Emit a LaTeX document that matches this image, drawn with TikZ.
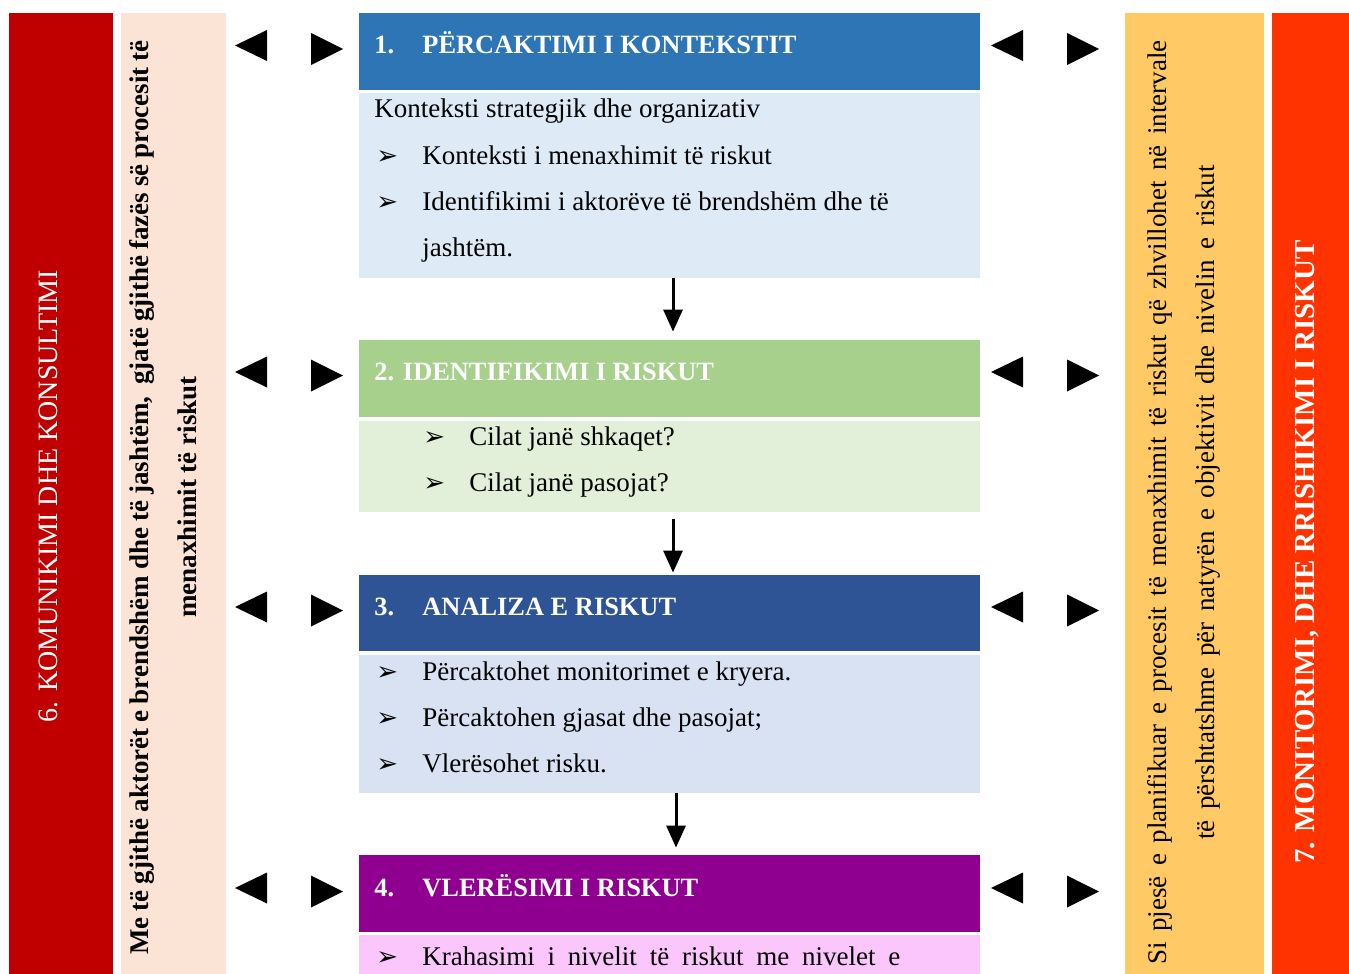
\documentclass[tikz,border=0pt]{standalone}
\usepackage{fontspec}
\setmainfont{Liberation Serif}
\newfontfamily\symfont{DejaVu Sans}
\usetikzlibrary{arrows.meta}

\definecolor{commred}{HTML}{C00000}
\definecolor{peach}{HTML}{FBE4D5}
\definecolor{sand}{HTML}{FFC966}
\definecolor{monired}{HTML}{FF3300}
\definecolor{hdone}{HTML}{2E75B6}
\definecolor{bdone}{HTML}{DEEAF6}
\definecolor{hdtwo}{HTML}{A8D08D}
\definecolor{bdtwo}{HTML}{E2EFD9}
\definecolor{hdthree}{HTML}{2F5496}
\definecolor{bdthree}{HTML}{D9E2F3}
\definecolor{hdfour}{HTML}{900090}
\definecolor{bdfour}{HTML}{FBC6FB}

\newcommand{\blt}{\makebox[23pt][l]{\symfont\fontsize{13}{14}\selectfont ➢}}

\tikzset{
  headbox/.style={rectangle, inner sep=0pt, minimum width=310.5pt, minimum height=38.5pt},
  bodybox/.style={rectangle, inner sep=0pt, minimum width=310.5pt},
  headtxt/.style={anchor=base west, inner sep=0pt, text=white, font=\bfseries\fontsize{13.2}{16}\selectfont},
  itemtxt/.style={anchor=base west, inner sep=0pt, font=\fontsize{13.5}{16}\selectfont},
  sidetxt/.style={rotate=90, inner sep=0pt, font=\fontsize{13.5}{16}\selectfont},
  flow/.style={line width=1.5pt, -{Triangle[width=9.5pt,length=11pt]}}
}

\begin{document}
\begin{tikzpicture}[x=0.5pt,y=-0.5pt]
\useasboundingbox (0,0) rectangle (1349,974);

% colonne laterali
\fill[commred] (9,13) rectangle (113,974);
\fill[peach] (121,13) rectangle (226,974);
\fill[sand] (1125,13) rectangle (1264,974);
\fill[monired] (1272,13) rectangle (1349,974);

% testi laterali
\node[sidetxt, text=white, font=\fontsize{14}{16}\selectfont] (commtxt) at (48,496) {6. KOMUNIKIMI DHE KONSULTIMI};
\node[sidetxt, font=\bfseries\fontsize{13.5}{16}\selectfont] (peachone) at (142,497.5)
  {\makebox[457pt][s]{Me të gjithë aktorët e brendshëm dhe të jashtëm,\ \ gjatë gjithë fazës së procesit të}};
\node[sidetxt, font=\bfseries\fontsize{13.5}{16}\selectfont] (peachtwo) at (187,497) {menaxhimit të riskut};
\node[sidetxt] (sandone) at (1160,502.5)
  {\makebox[462pt][s]{Si pjesë e planifikuar e procesit të menaxhimit të riskut që zhvillohet në intervale}};
\node[sidetxt] (sandtwo) at (1208,502.5)
  {\makebox[337pt][s]{të përshtatshme për natyrën e objektivit dhe nivelin e riskut}};
\node[sidetxt, text=white, font=\bfseries\fontsize{14.5}{16}\selectfont] (monitxt) at (1307,552) {7. MONITORIMI, DHE RRISHIKIMI I RISKUT};

% triangoli
\foreach \c in {45.5,372,607,888} {
  \fill (235,\c) -- (267,\c-15.5) -- (267,\c+15.5) -- cycle;
  \fill (343,\c+3.5) -- (311,\c-12.5) -- (311,\c+19.5) -- cycle;
  \fill (991,\c) -- (1023,\c-15.5) -- (1023,\c+15.5) -- cycle;
  \fill (1099,\c+3.5) -- (1067,\c-12.5) -- (1067,\c+19.5) -- cycle;
}

% riquadri
\node[headbox, fill=hdone] (head1) at (669.5,51.5) {};
\node[bodybox, fill=bdone, minimum height=92.5pt] (body1) at (669.5,185.5) {};
\node[headbox, fill=hdtwo] (head2) at (669.5,378.5) {};
\node[bodybox, fill=bdtwo, minimum height=45.5pt] (body2) at (669.5,466.5) {};
\node[headbox, fill=hdthree, minimum height=38pt] (head3) at (669.5,613) {};
\node[bodybox, fill=bdthree, minimum height=69pt] (body3) at (669.5,724) {};
\node[headbox, fill=hdfour] (head4) at (669.5,893.5) {};
\node[bodybox, fill=bdfour, minimum height=19.5pt] (body4) at (669.5,954.5) {};

% titoli
\node[headtxt] (title1) at (374,53.5) {\makebox[24pt][l]{1.}PËRCAKTIMI I KONTEKSTIT};
\node[headtxt] (title2) at (374,380) {2. IDENTIFIKIMI I RISKUT};
\node[headtxt] (title3) at (374,615) {\makebox[24pt][l]{3.}ANALIZA E RISKUT};
\node[headtxt] (title4) at (374,896) {\makebox[24pt][l]{4.}VLERËSIMI I RISKUT};

% voci
\node[itemtxt] (item11) at (374,118) {Konteksti strategjik dhe organizativ};
\node[itemtxt] (item12) at (376,164) {\blt Konteksti i menaxhimit të riskut};
\node[itemtxt] (item13) at (376,210) {\blt Identifikimi i aktorëve të brendshëm dhe të};
\node[itemtxt] (item14) at (422,256) {jashtëm.};
\node[itemtxt] (item21) at (423,445) {\blt Cilat janë shkaqet?};
\node[itemtxt] (item22) at (423,491) {\blt Cilat janë pasojat?};
\node[itemtxt] (item31) at (376,680) {\blt Përcaktohet monitorimet e kryera.};
\node[itemtxt] (item32) at (376,726) {\blt Përcaktohen gjasat dhe pasojat;};
\node[itemtxt] (item33) at (376,772) {\blt Vlerësohet risku.};
\node[itemtxt] (item41) at (376,965) {\blt \makebox[239pt][s]{Krahasimi i nivelit të riskut me nivelet e}};

% frecce
\draw[flow, shorten >=4pt] ([xshift=1.75pt]body1.south) -- ([xshift=1.75pt]head2.north);
\draw[flow, shorten <=3.5pt, shorten >=1pt] ([xshift=1.75pt]body2.south) -- ([xshift=1.75pt]head3.north);
\draw[flow, shorten >=3.5pt] ([xshift=3.25pt]body3.south) -- ([xshift=3.25pt]head4.north);

\end{tikzpicture}
\end{document}
